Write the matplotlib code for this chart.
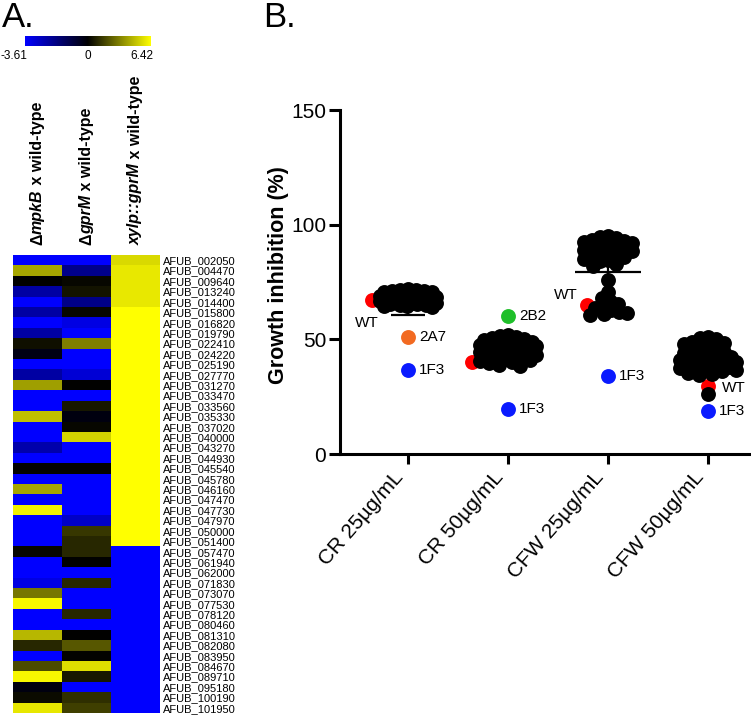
import matplotlib.pyplot as plt
import numpy as np
from matplotlib.colors import LinearSegmentedColormap, TwoSlopeNorm
from matplotlib.transforms import ScaledTranslation

plt.rcParams['font.family'] = ['Liberation Sans', 'DejaVu Sans']

# ---- panel A data (log2 fold change) ----
genes = ['AFUB_002050', 'AFUB_004470', 'AFUB_009640', 'AFUB_013240', 'AFUB_014400',
         'AFUB_015800', 'AFUB_016820', 'AFUB_019790', 'AFUB_022410', 'AFUB_024220',
         'AFUB_025190', 'AFUB_027770', 'AFUB_031270', 'AFUB_033470', 'AFUB_033560',
         'AFUB_035330', 'AFUB_037020', 'AFUB_040000', 'AFUB_043270', 'AFUB_044930',
         'AFUB_045540', 'AFUB_045780', 'AFUB_046160', 'AFUB_047470', 'AFUB_047730',
         'AFUB_047970', 'AFUB_050000', 'AFUB_051400', 'AFUB_057470', 'AFUB_061940',
         'AFUB_062000', 'AFUB_071830', 'AFUB_073070', 'AFUB_077530', 'AFUB_078120',
         'AFUB_080460', 'AFUB_081310', 'AFUB_082080', 'AFUB_083950', 'AFUB_084670',
         'AFUB_089710', 'AFUB_095180', 'AFUB_100190', 'AFUB_101950']
mpkb = [-3.61, 4.2, 0.0, -2.3, -3.61, -2.3, -3.61, -2.3, 0.4, -0.3,
        -3.61, -2.3, 4.0, -3.61, -3.61, 4.8, -3.61, -3.61, -2.4, -3.61,
        0.1, -3.61, 4.2, -3.61, 6.1, -3.61, -3.61, -3.61, 0.2, -3.61,
        -3.61, -3.2, 3.0, 6.2, -3.61, -3.61, 4.6, 1.0, -3.61, 1.9,
        6.2, -0.2, 0.3, 5.8]
gprm = [-3.61, -1.95, 0.2, 0.5, -1.9, 0.2, -3.2, -3.61, 3.2, -3.61,
        -3.61, -3.0, 0.0, -3.61, 0.6, -0.2, 0.2, 5.3, -3.61, -3.61,
        0.1, -3.61, -3.61, -3.61, -3.61, -2.8, 1.4, 1.0, 1.0, 0.0,
        -3.61, 1.0, -3.61, -3.61, 1.0, -3.61, 0.0, 2.2, 0.1, 5.6,
        0.6, -3.61, 1.2, 1.6]
xylp = [5.45, 5.85, 5.85, 5.85, 5.85] + [6.42] * 23 + [-3.61] * 16
vmin, vmax = -3.61, 6.42
cbar_labels = ['-3.61', '0', '6.42']

# ---- panel B data (growth inhibition %) ----
conditions = ['CR 25µg/mL', 'CR 50µg/mL', 'CFW 25µg/mL', 'CFW 50µg/mL']
cr25 = [72, 71.5, 71.5, 71, 71, 70.5, 70.5, 70, 70, 69.5, 69.5, 69, 69, 69, 68.5, 68.5,
        68, 68, 68, 67.5, 67.5, 67, 67, 66.5, 66.5, 66, 66, 65.5, 65.5, 65, 65, 64.5,
        64.5, 64, 68.2, 67.8]
cr50 = [52, 51.5, 51, 50.5, 50, 49.5, 49, 48.5, 48.5, 48, 47.5, 47.5, 47, 47, 46.5, 46.5,
        46, 46, 45.5, 45, 45, 44.5, 44.5, 44, 44, 43.5, 43, 43, 42.5, 42, 41.5, 41, 40.5,
        40, 39.5, 39, 38.5]
cfw25 = [95, 94.5, 94, 93.5, 93, 92.5, 92, 91.5, 91, 90.5, 90, 89.5, 89, 88.5, 88, 87.5,
         87, 86.5, 86, 85, 84.5, 84, 83, 82, 76, 70.5, 68, 66.5, 65.5, 64.5, 63.5, 63,
         62, 61.5, 61, 60.5]
cfw50 = [51, 50.5, 50, 49, 48.5, 48, 47, 46.5, 45.5, 45, 44.5, 44, 43.5, 43, 42.5, 42,
         41.5, 41, 40.5, 40, 40, 39.5, 39, 38.5, 38, 38, 37.5, 37, 36.5, 36, 35.5, 35,
         34.5, 26]
wt = [67, 40, 65, 29.6]
mut_names = ['2A7', '1F3', '2B2', '1F3', '1F3', '1F3']
mut_cond = [0, 0, 1, 1, 2, 3]
mut_vals = [51, 36.5, 60, 19.6, 34, 18.7]

mut_colors = {'2A7': '#f26a21', '1F3': '#0a1aff', '2B2': '#1fbf2a'}
wt_label_style = [((-4, -16), 'center'), None, ((-7, 7), 'right'), ((10, -1), 'left')]

fig = plt.figure(figsize=(7.51, 7.17), dpi=100)

# ---- panel A ----
cmap = LinearSegmentedColormap.from_list('byk', ['#0000ff', '#000000', '#ffff00'])
norm = TwoSlopeNorm(vmin=vmin, vcenter=0, vmax=vmax)
ax_hm = fig.add_axes([13 / 751, 1 - 713 / 717, 147 / 751, 458 / 717])
mat = np.column_stack([mpkb, gprm, xylp])
im = ax_hm.imshow(mat, cmap=cmap, norm=norm, aspect='auto', interpolation='nearest')
ax_hm.set_xticks([])
ax_hm.yaxis.tick_right()
ax_hm.set_yticks(range(len(genes)))
ax_hm.set_yticklabels(genes, fontsize=8)
ax_hm.tick_params(axis='y', length=0, pad=2)
for s in ax_hm.spines.values():
    s.set_visible(False)

# column headers, mixed italic pieces chained together
headers = [[('Δ', 'normal'), ('mpkB', 'italic'), (' x wild-type', 'normal')],
           [('Δ', 'normal'), ('gprM', 'italic'), (' x wild-type', 'normal')],
           [('xylp::gprM', 'italic'), (' x wild-type', 'normal')]]
for j, parts in enumerate(headers):
    prev = None
    for txt, style in parts:
        if prev is None:
            prev = ax_hm.annotate(txt, xy=(j, 1), xycoords=ax_hm.get_xaxis_transform(),
                                  xytext=(0, 7), textcoords='offset points',
                                  rotation=90, ha='center', va='bottom',
                                  fontsize=11.5, fontweight='bold', fontstyle=style)
        else:
            prev = ax_hm.annotate(txt, xy=(0.5, 1), xycoords=prev,
                                  rotation=90, ha='center', va='bottom',
                                  fontsize=11.5, fontweight='bold', fontstyle=style)

cax = fig.add_axes([25 / 751, 1 - 46 / 717, 126 / 751, 10 / 717])
cb = fig.colorbar(im, cax=cax, orientation='horizontal')
cb.outline.set_visible(False)
cb.set_ticks([])
for v, lab in zip([vmin, 0, vmax], cbar_labels):
    cax.annotate(lab, (v, 0), xycoords=('data', 'axes fraction'), xytext=(2, -3),
                 textcoords='offset points', ha='right', va='top', fontsize=8.5,
                 annotation_clip=False)

fig.text(0.003, 0.998, 'A.', fontsize=25, va='top', ha='left')
fig.text(263 / 751, 0.998, 'B.', fontsize=25, va='top', ha='left')

# ---- panel B ----
ax = fig.add_axes([340 / 751, 1 - 454 / 717, 411 / 751, 344 / 717])
ax.set_xlim(-0.68, 3.43)
ax.set_ylim(0, 150)
ax.spines[['top', 'right']].set_visible(False)
ax.spines[['left', 'bottom']].set_linewidth(2.2)
ax.set_yticks([0, 50, 100, 150])
ax.set_xticks(range(len(conditions)))
ax.set_xticklabels(conditions, rotation=49, ha='right', va='center', rotation_mode='anchor')
ax.tick_params(axis='y', length=8, width=2.2, labelsize=15, pad=2)
ax.tick_params(axis='x', length=7, width=2.2, labelsize=15, pad=6)
shift = ScaledTranslation(-8 / 100, -2 / 100, fig.dpi_scale_trans)
for lab in ax.get_xticklabels():
    lab.set_transform(lab.get_transform() + shift)
ax.set_ylabel('Growth inhibition (%)', fontsize=15.5, fontweight='bold')
ax.yaxis.set_label_coords(-0.125, 0.52)

p0 = ax.transData.transform((0, 0))
p1 = ax.transData.transform((1, 1))
sx, sy = p1[0] - p0[0], p1[1] - p0[1]


def swarm(vals, dmin=8.0, half_width=28, left_last=True):
    # greedy scatter spread (pixel space), limited width -> points overlap when crowded
    placed, offs = [], []
    cands = sorted(range(-half_width, half_width + 1), key=lambda d: (abs(d), d))
    for n, v in enumerate(vals):
        y = v * sy
        last = left_last and n == len(vals) - 1
        cc = list(range(0, -half_width - 9, -1)) if last else cands
        best, best_d = cc[0], -1
        for dx in cc:
            dmin_here = min((np.hypot(dx - px, y - py) for px, py in placed), default=1e9)
            if dmin_here >= dmin:
                best = dx
                break
            if dmin_here > best_d:
                best, best_d = dx, dmin_here
        placed.append((best, y))
        offs.append(best / sx)
    return np.array(offs)


groups = [cr25, cr50, cfw25, cfw50]
for i, g in enumerate(groups):
    vals = list(g) + [wt[i]]
    offs = swarm(vals)
    ax.scatter(i + offs[:-1], g, s=115, c='black', linewidths=0, zorder=3)
    ax.scatter(i + offs[-1], wt[i], s=115, c='#ff0000', linewidths=0, zorder=2)
    if wt_label_style[i] is not None:
        off, ha = wt_label_style[i]
        ax.annotate('WT', (i + offs[-1], wt[i]), xytext=off, textcoords='offset points',
                    ha=ha, va='center', fontsize=11, zorder=5)

    allv = np.array(vals + [v for v, c in zip(mut_vals, mut_cond) if c == i])
    m, sd = allv.mean(), allv.std(ddof=1)
    ax.hlines(m, i - 0.33, i + 0.33, color='black', lw=1.6, zorder=1)
    ax.errorbar(i, m, yerr=sd, fmt='none', ecolor='black', elinewidth=1.6,
                capsize=12, capthick=1.6, zorder=1)

for name, c, v in zip(mut_names, mut_cond, mut_vals):
    ax.scatter(c, v, s=115, c=mut_colors[name], linewidths=0, zorder=4)
    ax.annotate(name, (c, v), xytext=(8, 0), textcoords='offset points',
                ha='left', va='center', fontsize=11, zorder=5)

fig.savefig('out.png', dpi=100, facecolor='white')
